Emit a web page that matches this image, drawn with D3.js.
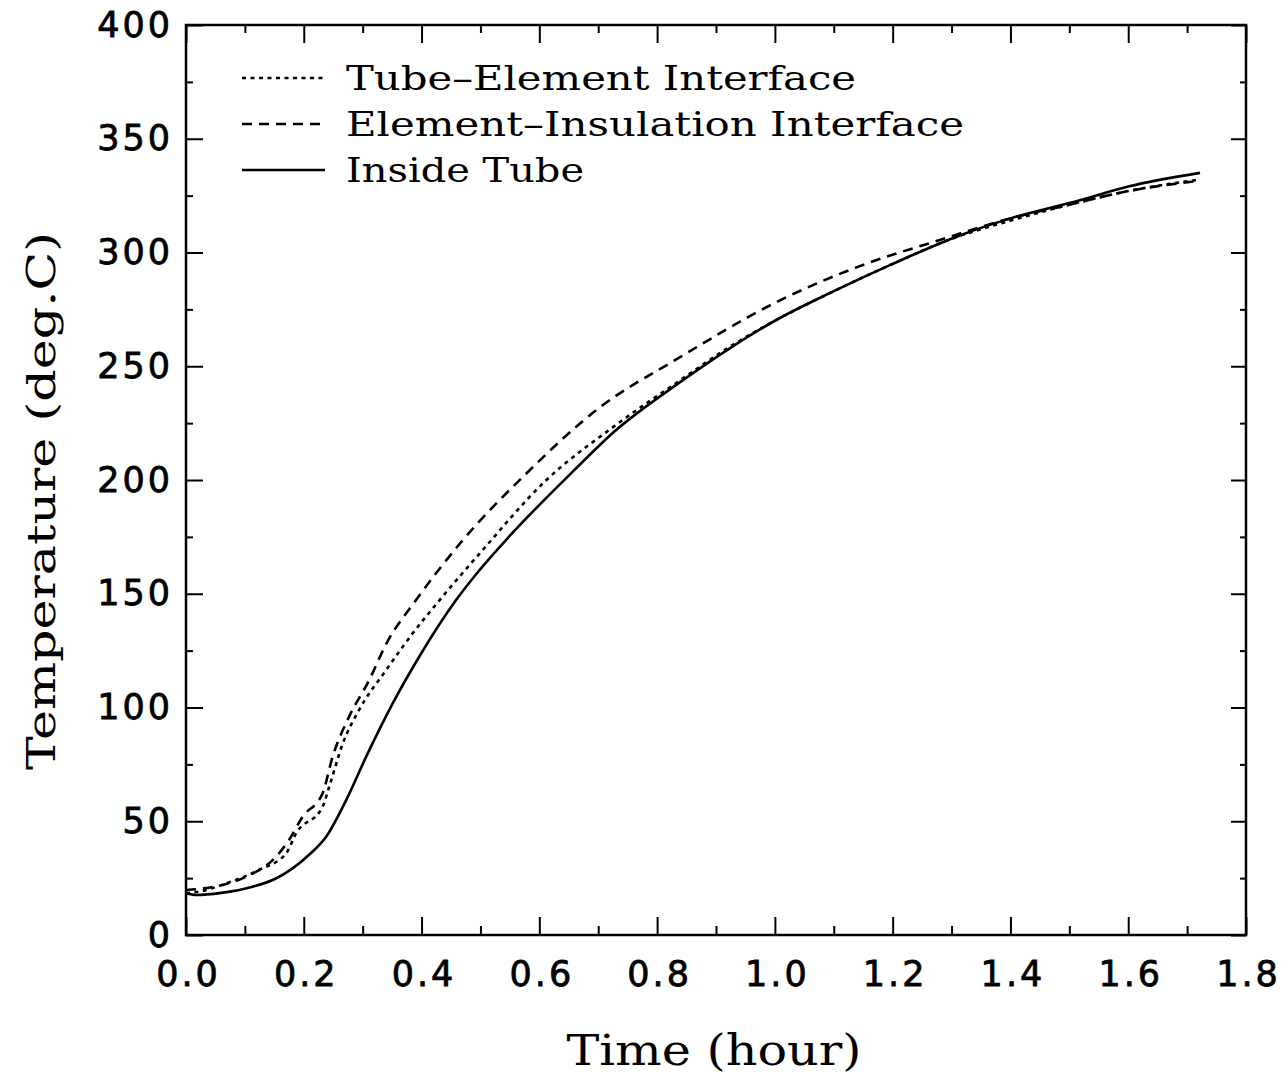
<!DOCTYPE html>
<html><head><meta charset="utf-8">
<script src="https://cdn.jsdelivr.net/npm/d3@7"></script>
<style>body{margin:0;background:#fff}svg{display:block}</style>
</head><body>
<script>
// ---- data ----
const seriesNames = ["Tube\u2013Element Interface", "Element\u2013Insulation Interface", "Inside Tube"];
const tubeElemTime = [0, 0.03, 0.068, 0.124, 0.17, 0.187, 0.232, 0.243, 0.266, 0.294, 0.34, 0.385, 0.43, 0.499, 0.612, 0.726, 0.84, 0.92, 1.0, 1.1, 1.2, 1.3, 1.4, 1.5, 1.6, 1.72];
const tubeElemTemp = [18.3, 19.5, 22.7, 28.6, 35.9, 44.7, 56.4, 65, 84, 99, 116.5, 132.6, 147, 167.8, 200, 223.4, 244, 258, 270, 283, 295, 306, 314, 321, 327, 332];
const elemInsTime = [0, 0.03, 0.062, 0.102, 0.153, 0.175, 0.198, 0.232, 0.249, 0.277, 0.311, 0.34, 0.39, 0.465, 0.584, 0.697, 0.839, 1.009, 1.144, 1.28, 1.4, 1.5, 1.6, 1.72];
const elemInsTemp = [19.8, 20.5, 22, 25.6, 34.4, 41.8, 52, 62.3, 78.4, 96, 112, 128, 147, 172, 204.4, 230.8, 254, 279, 294, 305.5, 315, 321, 327, 331.5];
const insideTime = [0, 0.017, 0.06, 0.113, 0.15, 0.181, 0.21, 0.238, 0.272, 0.306, 0.351, 0.396, 0.458, 0.494, 0.55, 0.658, 0.726, 0.839, 0.924, 1.0, 1.1, 1.2, 1.314, 1.4, 1.518, 1.6, 1.722];
const insideTemp = [18.5, 17.6, 18.5, 21.2, 24.5, 29.3, 35.5, 43.2, 59.3, 78.4, 101.8, 122.3, 147, 159, 175.5, 204, 221, 243, 258, 270, 283, 295, 307.5, 315, 323, 329, 335];
const xMajorTicks = [0, 0.2, 0.4, 0.6, 0.8, 1.0, 1.2, 1.4, 1.6, 1.8];
const xMinorTicks = [0.1, 0.3, 0.5, 0.7, 0.9, 1.1, 1.3, 1.5, 1.7];
const yMajorTicks = [0, 50, 100, 150, 200, 250, 300, 350, 400];
const yMinorTicks = [25, 75, 125, 175, 225, 275, 325, 375];
const xTitle = "Time (hour)";
const yTitle = "Temperature (deg.C)";

// ---- drawing ----
const W = 1288, H = 1077;
const L = 186, R = 1246, T = 25, B = 935;
const svg = d3.select("body").append("svg").attr("width", W).attr("height", H);
const x = d3.scaleLinear().domain([0, 1.8]).range([L, R]);
const y = d3.scaleLinear().domain([0, 400]).range([B, T]);

const tickFont = "'DejaVu Sans', sans-serif";
const serif = "'DejaVu Serif', serif";

function styleAxis(g) {
  g.select(".domain").remove();
  g.selectAll("line").attr("stroke", "#000").attr("stroke-width", 2);
  g.selectAll("text").attr("fill", "#000").attr("font-family", tickFont).attr("font-size", 35)
    .attr("stroke", "#000").attr("stroke-width", 0.8).attr("letter-spacing", 3);
}
// bottom
svg.append("g").attr("transform", `translate(0,${B})`)
  .call(d3.axisBottom(x).tickValues(xMajorTicks).tickSize(-18).tickPadding(26).tickFormat(d3.format(".1f")))
  .call(styleAxis)
  .selectAll("text").attr("dx", 2);
svg.append("g").attr("transform", `translate(0,${B})`)
  .call(d3.axisBottom(x).tickValues(xMinorTicks).tickSize(-9).tickFormat(""))
  .call(styleAxis);
// top
svg.append("g").attr("transform", `translate(0,${T})`)
  .call(d3.axisTop(x).tickValues(xMajorTicks).tickSize(-18).tickFormat(""))
  .call(styleAxis);
svg.append("g").attr("transform", `translate(0,${T})`)
  .call(d3.axisTop(x).tickValues(xMinorTicks).tickSize(-8).tickFormat(""))
  .call(styleAxis);
// left
svg.append("g").attr("transform", `translate(${L},0)`)
  .call(d3.axisLeft(y).tickValues(yMajorTicks).tickSize(-17).tickPadding(13).tickFormat(d3.format("d")))
  .call(styleAxis);
svg.append("g").attr("transform", `translate(${L},0)`)
  .call(d3.axisLeft(y).tickValues(yMinorTicks).tickSize(-7).tickFormat(""))
  .call(styleAxis);
// right
svg.append("g").attr("transform", `translate(${R},0)`)
  .call(d3.axisRight(y).tickValues(yMajorTicks).tickSize(-15).tickFormat(""))
  .call(styleAxis);
svg.append("g").attr("transform", `translate(${R},0)`)
  .call(d3.axisRight(y).tickValues(yMinorTicks).tickSize(-6).tickFormat(""))
  .call(styleAxis);

// frame
svg.append("rect").attr("x", L).attr("y", T).attr("width", R - L).attr("height", B - T)
  .attr("fill", "none").attr("stroke", "#000").attr("stroke-width", 2.5);

// series
const series = [
  {name: seriesNames[0], t: tubeElemTime, v: tubeElemTemp, dash: "4,4.5"},
  {name: seriesNames[1], t: elemInsTime, v: elemInsTemp, dash: "10,7"},
  {name: seriesNames[2], t: insideTime, v: insideTemp, dash: null}
];
const line = d3.line().x(d => x(d[0])).y(d => y(d[1])).curve(d3.curveMonotoneX);
series.forEach(s => {
  const pts = s.t.map((t, i) => [t, s.v[i]]);
  svg.append("path").attr("d", line(pts)).attr("fill", "none").attr("stroke", "#000")
    .attr("stroke-width", 2.6).attr("stroke-dasharray", s.dash);
});

// legend
const legY = [78, 124, 170];
const legLens = [510, 618, 238];
series.forEach((s, i) => {
  svg.append("line").attr("x1", 242).attr("x2", 325).attr("y1", legY[i]).attr("y2", legY[i])
    .attr("stroke", "#000").attr("stroke-width", 2.4).attr("stroke-dasharray", s.dash);
  svg.append("text").attr("x", 346).attr("y", legY[i] + 12).text(s.name)
    .attr("font-family", serif).attr("font-size", 34).attr("fill", "#000")
    .attr("textLength", legLens[i]).attr("lengthAdjust", "spacingAndGlyphs");
});

// axis titles
svg.append("text").attr("x", 714).attr("y", 1065).attr("text-anchor", "middle").text(xTitle)
  .attr("font-family", serif).attr("font-size", 42).attr("fill", "#000")
  .attr("textLength", 295).attr("lengthAdjust", "spacingAndGlyphs");
svg.append("text").attr("transform", "translate(55,501) rotate(-90)").attr("text-anchor", "middle").text(yTitle)
  .attr("font-family", serif).attr("font-size", 40).attr("fill", "#000")
  .attr("textLength", 538).attr("lengthAdjust", "spacingAndGlyphs");
</script>
</body></html>
